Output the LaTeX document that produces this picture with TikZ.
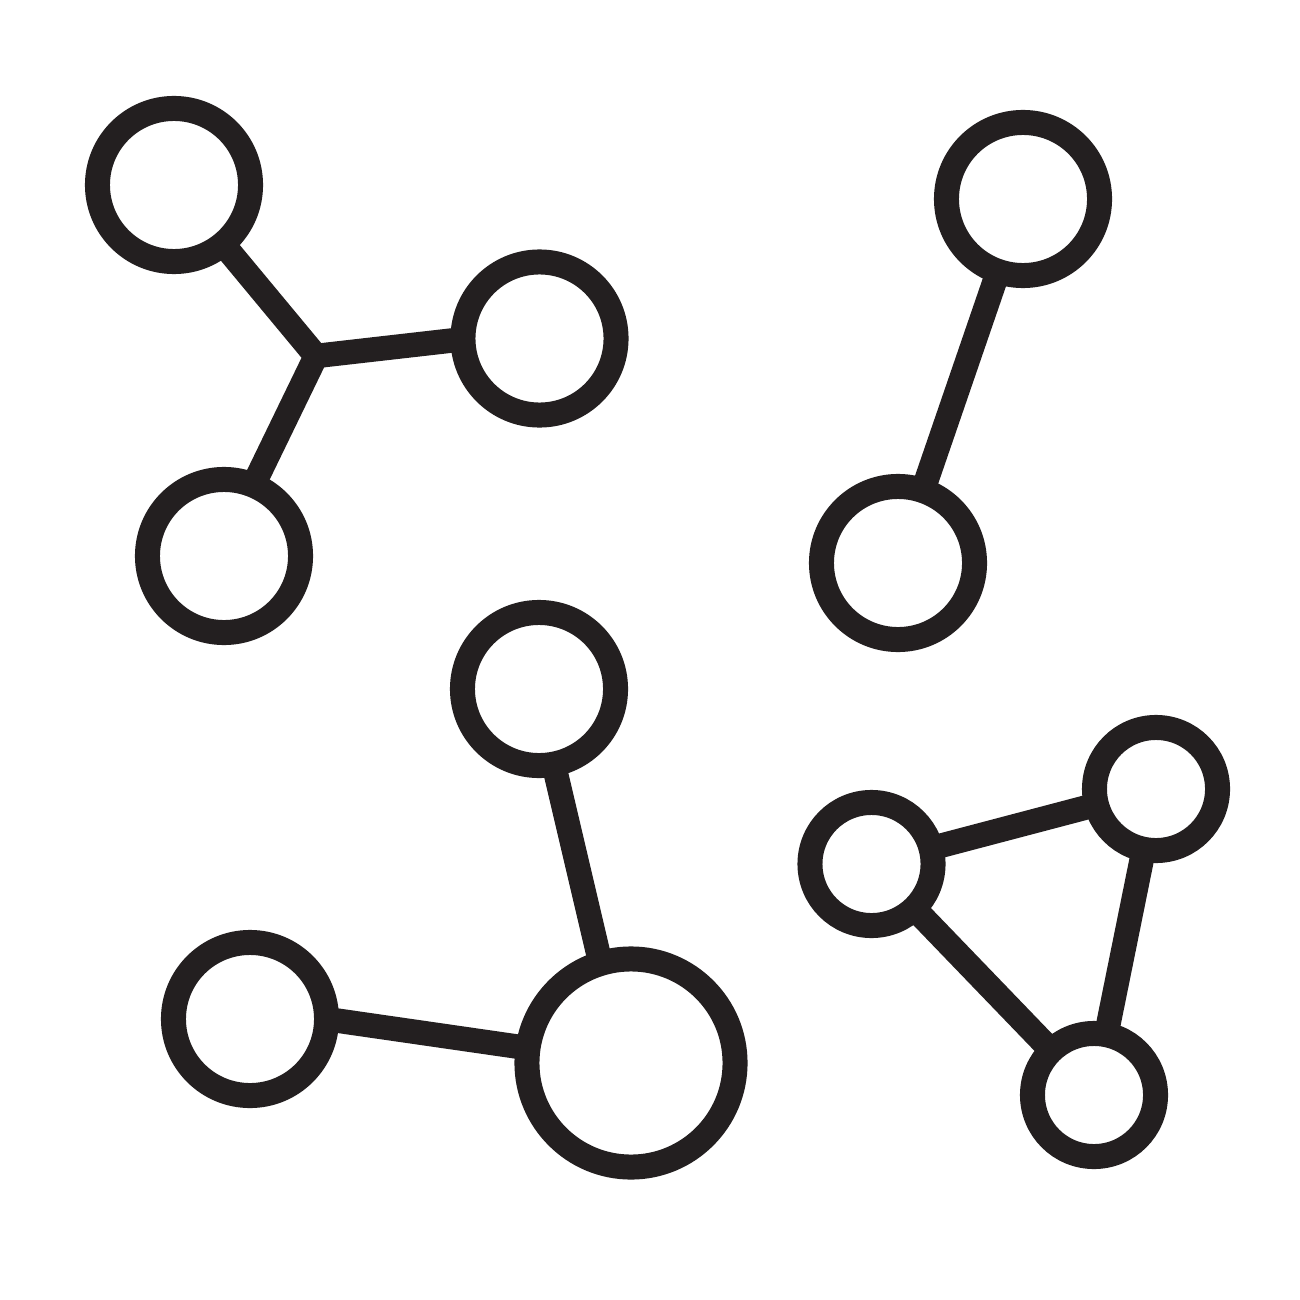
\documentclass[tikz,border=0pt]{standalone}
\usetikzlibrary{backgrounds,calc}
\definecolor{ink}{HTML}{231F20}
\begin{document}
\begin{tikzpicture}[x=0.01cm,y=-0.01cm,
  atom/.style={circle,draw=ink,fill=white,line width=0.25cm,inner sep=0pt,outer sep=0pt,minimum size=1.53cm},
  bigatom/.style={atom,minimum size=2.08cm},
  smallatom/.style={atom,minimum size=1.23cm},
  bond/.style={draw=ink,line width=0.245cm,line join=miter}]
\useasboundingbox (0,0) rectangle (1300,1300);
% cluster 1
\node[atom] (a) at (174,185) {};
\node[atom] (b) at (539.5,338.5) {};
\node[atom] (c) at (224,556) {};
\coordinate (j) at (316,356);
% cluster 2
\node[atom] (d) at (1023,199) {};
\node[atom] (e) at (898,563) {};
% cluster 3
\node[atom] (f) at (539,689) {};
\node[atom] (g) at (250,1019) {};
\node[bigatom] (h) at (631,1063) {};
% cluster 4
\node[smallatom] (i) at (871.5,864) {};
\node[smallatom] (k) at (1156,789) {};
\node[smallatom] (l) at (1094,1095) {};
\begin{scope}[on background layer]
\fill[white] (0,0) rectangle (1300,1300);
\draw[bond] (a.center) -- (j) -- ($(c.center)+(-5,0)$);
\draw[bond] (j) -- ($(b.center)+(0,-8)$);
\draw[bond] (d.center) -- (e.center);
\draw[bond] ($(f.center)+(-3,0)$) -- ($(h.center)+(-7,0)$);
\draw[bond] ($(g.center)+(0,-11)$) -- (h.center);
\draw[bond] (i.center) -- (k.center);
\draw[bond] (i.center) -- (l.center);
\draw[bond] (k.center) -- (l.center);
\end{scope}
\end{tikzpicture}
\end{document}
